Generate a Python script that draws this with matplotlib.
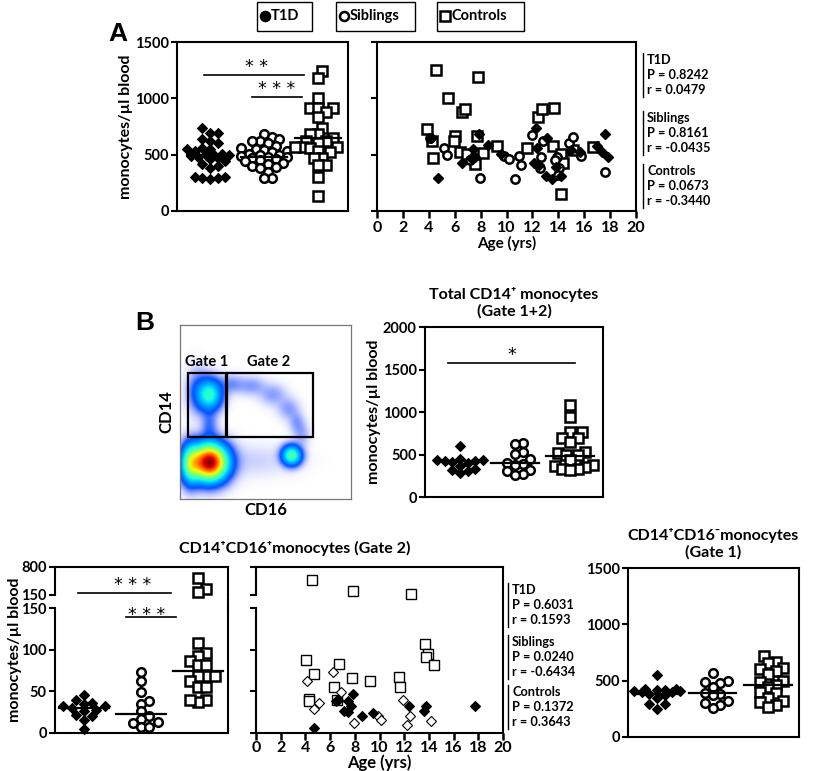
import numpy as np
import matplotlib
matplotlib.use("Agg")
import matplotlib.pyplot as plt
from matplotlib.lines import Line2D
from matplotlib.patches import Rectangle
from matplotlib import cm

plt.rcParams['font.family'] = ['Lato', 'DejaVu Sans']
plt.rcParams['font.weight'] = 'bold'
plt.rcParams['axes.labelweight'] = 'bold'
plt.rcParams['axes.titleweight'] = 'bold'
plt.rcParams['axes.linewidth'] = 1.5
for a in ('xtick', 'ytick'):
    plt.rcParams[a + '.major.width'] = 1.5
    plt.rcParams[a + '.major.size'] = 4
    plt.rcParams[a + '.direction'] = 'out'

# ---------------- data ----------------
groups = ["T1D", "Siblings", "Controls"]

# Panel A: total monocytes
A_t1d = [740, 690, 690, 640, 620, 600, 560, 550, 550, 530, 510, 500, 500, 500, 490,
         480, 470, 460, 440, 420, 400, 380, 300, 300, 290, 290, 280]
A_sib = [680, 660, 640, 620, 620, 600, 580, 560, 550, 540, 530, 520, 510, 500, 500,
         490, 480, 480, 470, 460, 450, 440, 430, 420, 400, 390, 380, 350, 290, 290]
A_ctl = [1240, 1180, 1000, 910, 910, 910, 880, 830, 740, 680, 680, 650, 620, 620, 600,
         570, 570, 570, 560, 530, 520, 470, 470, 410, 410, 300, 130]
A_med = [500, 480, 645]

# Panel A: age correlation
A_age_ctl = [4.57, 7.79, 5.5, 6.58, 6.79, 3.87, 5.99, 5.94, 7.74, 4.28, 4.31, 6.4, 6.97,
             8.2, 7.59, 9.24, 11.6, 12.46, 12.77, 13.7, 13.6, 14.2, 14.4, 15.1, 16.65, 14.2]
A_val_ctl = [1250, 1190, 1000, 880, 905, 730, 670, 625, 670, 620, 470, 520, 505,
             515, 420, 580, 560, 830, 905, 915, 580, 510, 425, 540, 570, 155]
A_age_sib = [4.13, 5.16, 5.42, 7.95, 9.8, 10.2, 10.66, 10.97, 11.15, 11.95, 12.85, 12.7,
             12.6, 13.9, 14.06, 14.0, 14.84, 15.15, 15.74, 17.6, 7.17, 13.73]
A_val_sib = [645, 555, 500, 295, 485, 460, 280, 485, 405, 675, 625, 475,
             380, 475, 380, 320, 605, 655, 490, 345, 455, 455]
A_age_t1d = [4.2, 4.72, 6.53, 7.43, 7.53, 7.23, 7.87, 8.6, 9.55, 12.26, 12.34, 13.1,
             13.08, 13.5, 13.8, 14.2, 15.0, 15.7, 17.0, 17.4, 17.6, 17.8, 12.1, 12.5]
A_val_t1d = [645, 290, 425, 550, 475, 470, 680, 590, 510, 735, 555, 645,
             310, 285, 390, 310, 545, 520, 575, 520, 685, 475, 425, 410]
A_stats = [("T1D", "0.8242", "0.0479"), ("Siblings", "0.8161", "-0.0435"),
           ("Controls", "0.0673", "-0.3440")]

# Panel B: total CD14+ (gate 1+2)
B_t1d = [598, 450, 440, 430, 420, 420, 410, 400, 370, 330, 320, 310, 280]
B_sib = [630, 620, 530, 510, 450, 400, 390, 380, 320, 310, 270, 260]
B_ctl = [1080, 940, 770, 770, 700, 700, 650, 530, 520, 500, 490, 430, 380, 370,
         350, 330, 330, 320]
B_med = [422, 395, 480]

# CD14+CD16+ (gate 2)
G2_t1d = [46, 40, 36, 35, 33, 32, 30, 28, 26, 22, 20, 16, 5]
G2_sib = [73, 62, 49, 39, 35, 26, 20, 17, 13, 12, 7, 7]
G2_ctl = [545, 290, 220, 108, 96, 93, 87, 82, 82, 68, 68, 68, 62, 55, 55, 40, 37, 40]
G2_med = [30, 23, 75]

G2_age_ctl = [4.56, 7.83, 12.58, 13.68, 13.9, 13.8, 14.45, 4.02, 4.67, 6.75, 7.75, 9.2,
              11.58, 11.66, 6.34, 6.56, 4.3, 4.3]
G2_val_ctl = [500, 243, 170, 107, 95, 91, 82, 88, 71, 83, 66, 63,
              67, 55, 55, 40, 41, 38]
G2_age_sib = [4.1, 6.2, 6.86, 5.13, 4.67, 7.91, 9.85, 10.12, 11.93, 12.23, 12.5, 14.15]
G2_val_sib = [63, 73, 49, 36, 29, 12, 21, 16, 40, 10, 21, 14]
G2_age_t1d = [4.7, 6.48, 6.6, 7.15, 7.42, 7.47, 7.69, 7.83, 8.56, 9.45, 12.39, 13.6,
              13.74, 17.73]
G2_val_t1d = [6, 38, 40, 27, 25, 38, 32, 47, 21, 24, 33, 27, 32, 33]
G2_stats = [("T1D", "0.6031", "0.1593"), ("Siblings", "0.0240", "-0.6434"),
            ("Controls", "0.1372", "0.3643")]

# CD14+CD16- (gate 1)
G1_t1d = [553, 430, 425, 420, 415, 410, 405, 400, 395, 385, 370, 350, 290, 290, 250]
G1_sib = [568, 500, 490, 480, 440, 390, 380, 370, 320, 300, 280, 260]
G1_ctl = [720, 670, 660, 610, 600, 590, 560, 500, 490, 465, 440, 400, 390, 350,
          320, 310, 280, 270]
G1_med = [385, 391, 465]

# Flow cytometry density (schematic populations, axes fractions)
flow_cx = [0.17, 0.17, 0.65, 0.17, 0.30, 0.42, 0.54, 0.63, 0.68, 0.71, 0.42, 0.06, 0.10]
flow_cy = [0.21, 0.60, 0.25, 0.42, 0.66, 0.65, 0.60, 0.52, 0.44, 0.37, 0.22, 0.20, 0.62]
flow_sx = [0.065, 0.045, 0.035, 0.03, 0.05, 0.05, 0.05, 0.04, 0.03, 0.03, 0.16, 0.035, 0.04]
flow_sy = [0.065, 0.055, 0.035, 0.06, 0.035, 0.035, 0.04, 0.04, 0.04, 0.04, 0.06, 0.07, 0.08]
flow_amp = [1.0, 0.30, 0.36, 0.05, 0.035, 0.03, 0.03, 0.03, 0.03, 0.025, 0.012, 0.35, 0.05]

# ---------------- figure ----------------
W, H = 822, 771
fig = plt.figure(figsize=(W / 100, H / 100), dpi=100)


def add_ax(x0, y0, x1, y1):
    return fig.add_axes([x0 / W, 1 - y1 / H, (x1 - x0) / W, (y1 - y0) / H])


def FX(x):
    return x / W


def FY(y):
    return 1 - y / H


def swarm(ypx, d, step=None, maxoff=24):
    ypx = np.asarray(ypx, float)
    step = step or d * 0.55
    order = np.argsort(ypx)
    placed = []
    off = np.zeros(len(ypx))
    for i in order:
        best, bestov = 0.0, None
        for k in range(40):
            cand = 0.0 if k == 0 else ((k + 1) // 2) * step * (1 if k % 2 else -1)
            if abs(cand) > maxoff:
                continue
            dmin = min([np.hypot(cand - px, ypx[i] - py) for px, py in placed] or [1e9])
            if dmin >= d:
                best = cand
                bestov = None
                break
            if bestov is None or dmin > bestov:
                best, bestov = cand, dmin
        off[i] = best
        placed.append((best, ypx[i]))
    return off


mk_t1d = dict(marker='D', ms=5.5, mfc='black', mec='black', mew=0.8, ls='none')
mk_sib = dict(marker='o', ms=6.2, mfc='white', mec='black', mew=1.8, ls='none')
mk_ctl = dict(marker='s', ms=6.8, mfc='white', mec='black', mew=1.8, ls='none')
specs = [mk_t1d, mk_sib, mk_ctl]

TICKFS = 10.5
STAR = dict(family='DejaVu Sans', weight='normal', fontsize=12.5, ha='center', va='bottom')


def style_col_ax(ax):
    ax.set_xticks([])
    ax.tick_params(axis='y', labelsize=TICKFS, pad=2)


def columns(ax, data, meds, ypx_per_unit, s, d=7.0, hw=0.43):
    for gi, (vals, med, sp) in enumerate(zip(data, meds, specs)):
        ypx = np.asarray(vals, float) * ypx_per_unit
        off = swarm(ypx, d) / s
        ax.plot(gi + off, vals, clip_on=False, **sp)
        ax.plot([gi - hw, gi + hw], [med, med], color='black', lw=1.6, zorder=5)


def xlim_for(x0, x1, c0, s):
    return ((x0 - c0) / s, (x1 - c0) / s)


# ---------- top legend boxes ----------
leg = [((257, 312), 'o', 'black', "T1D"), ((336, 415), 'o', 'white', "Siblings"),
       ((437, 524), 's', 'white', "Controls")]
for (bx0, bx1), m, fc, lab in leg:
    fig.add_artist(Rectangle((FX(bx0), FY(31)), (bx1 - bx0) / W, 29 / H,
                             transform=fig.transFigure, fill=False, lw=1.0, ec='black'))
    fig.add_artist(Line2D([FX(bx0 + 8)], [FY(16)], marker=m, ms=6.5 if m == 'o' else 7.5,
                          mfc=fc, mec='black', mew=1.8, transform=fig.transFigure))
    fig.text(FX(bx0 + 14), FY(16), lab, fontsize=10.5, va='center', ha='left')

# ---------- Panel A left ----------
fig.text(FX(118), FY(34), "A", fontsize=19, family='Liberation Sans', weight='bold',
         ha='center', va='center')
axA = add_ax(177, 42, 348, 211)
sA = 54
axA.set_xlim(*xlim_for(177, 348, 210, sA))
axA.set_ylim(0, 1500)
axA.set_yticks([0, 500, 1000, 1500])
style_col_ax(axA)
axA.set_ylabel("monocytes/µl blood", fontsize=11.5, labelpad=1)
columns(axA, [A_t1d, A_sib, A_ctl], A_med, 169 / 1500, sA)
axA.plot([-0.11, 1.74], [1210, 1210], color='black', lw=1.2)
axA.text(0.87, 1200, "* *", **STAR)
axA.plot([0.78, 1.70], [1010, 1010], color='black', lw=1.2)
axA.text(1.24, 1000, "* * *", **STAR)

# ---------- Panel A right ----------
axAr = add_ax(377, 42, 636, 211)
axAr.set_xlim(0, 20)
axAr.set_ylim(0, 1500)
axAr.set_xticks(np.arange(0, 21, 2))
axAr.set_yticks([0, 500, 1000, 1500])
axAr.set_yticklabels([])
axAr.tick_params(axis='x', labelsize=11.5, width=1.8, length=5, pad=2)
axAr.set_xlabel("Age (yrs)", fontsize=11, labelpad=1)
axAr.plot(A_age_ctl, A_val_ctl, marker='s', ms=7, mfc='white', mec='black', mew=1.8, ls='none')
axAr.plot(A_age_sib, A_val_sib, marker='o', ms=6, mfc='white', mec='black', mew=1.8, ls='none')
axAr.plot(A_age_t1d, A_val_t1d, marker='D', ms=5, mfc='black', mec='black', ls='none')


def stats_block(x, blocks, ys):
    for (name, p, r), yb in zip(blocks, ys):
        lines = [name, "P = " + p, "r = " + r]
        for k, t in enumerate(lines):
            fig.text(FX(x + 4), FY(yb + k * 15), t, fontsize=9.2, va='center', ha='left')
        fig.add_artist(Line2D([FX(x), FX(x)], [FY(yb - 7), FY(yb + 2 * 15 + 7)],
                              color='black', lw=1.0, transform=fig.transFigure))


stats_block(643, A_stats, [60, 118, 171])

# ---------- Panel B flow ----------
fig.text(FX(145), FY(323), "B", fontsize=19, family='Liberation Sans', weight='bold',
         ha='center', va='center')
axF = add_ax(180, 325, 351, 499)
gx = np.linspace(0, 1, 300)
gy = np.linspace(0, 1, 300)
X, Y = np.meshgrid(gx, gy)
D = np.zeros_like(X)
for cx, cy, sx, sy, am in zip(flow_cx, flow_cy, flow_sx, flow_sy, flow_amp):
    D += am * np.exp(-((X - cx) ** 2 / (2 * sx ** 2) + (Y - cy) ** 2 / (2 * sy ** 2)))
D = D / D.max()
rgba = cm.jet(np.clip(0.15 + 0.85 * D, 0, 1))
rgba[..., 3] = np.clip(D / 0.07, 0, 1) ** 0.9
axF.imshow(rgba, extent=[0, 1, 0, 1], origin='lower', aspect='auto',
           interpolation='bilinear')
axF.set_xlim(0, 1)
axF.set_ylim(0, 1)
axF.set_xticks([])
axF.set_yticks([])
for sp in axF.spines.values():
    sp.set_color('#777777')
    sp.set_linewidth(0.9)
axF.add_patch(Rectangle((0.047, 0.354), 0.22, 0.372, fill=False, lw=1.6, ec='black'))
axF.add_patch(Rectangle((0.273, 0.354), 0.506, 0.372, fill=False, lw=1.6, ec='black'))
axF.text(0.157, 0.785, "Gate 1", fontsize=10.5, ha='center', va='center')
axF.text(0.52, 0.785, "Gate 2", fontsize=10.5, ha='center', va='center')
axF.set_ylabel("CD14", fontsize=12, labelpad=4)
axF.set_xlabel("CD16", fontsize=12, labelpad=2)

# ---------- Panel B total CD14+ ----------
axB = add_ax(425, 327, 603, 497)
sB = 55
axB.set_xlim(*xlim_for(425, 603, 460, sB))
axB.set_ylim(0, 2000)
axB.set_yticks([0, 500, 1000, 1500, 2000])
style_col_ax(axB)
axB.set_ylabel("monocytes/µl blood", fontsize=11.5, labelpad=1)
columns(axB, [B_t1d, B_sib, B_ctl], B_med, 170 / 2000, sB)
axB.plot([-0.22, 2.09], [1580, 1580], color='black', lw=1.2)
axB.text(0.95, 1560, "*", **STAR)
axB.set_title("Total CD14⁺ monocytes\n(Gate 1+2)", fontsize=11.5, linespacing=1.25, pad=8)

# ---------- Gate 2 columns (broken axis) ----------
fig.text(FX(295), FY(548), "CD14⁺CD16⁺monocytes (Gate 2)", fontsize=11.5,
         ha='center', va='center')
sG = 57
xl = xlim_for(55, 228, 84, sG)
axGt = add_ax(55, 567, 228, 595)
axGb = add_ax(55, 608, 228, 733)
for ax in (axGt, axGb):
    ax.set_xlim(*xl)
    style_col_ax(ax)
axGt.set_ylim(150, 800)
axGt.set_yticks([150, 800])
axGt.spines['bottom'].set_visible(False)
axGb.set_ylim(0, 150)
axGb.set_yticks([0, 50, 100, 150])
axGb.spines['top'].set_visible(False)
fig.add_artist(Line2D([FX(228), FX(228)], [FY(595), FY(608)], color='black', lw=1.5,
                      transform=fig.transFigure))
fig.text(FX(15), FY(650), "monocytes/µl blood", fontsize=11.5, rotation=90,
         ha='center', va='center')


def gpx(v):
    v = np.asarray(v, float)
    return np.where(v <= 150, v * 125 / 150, 138 + (v - 150) * 28 / 650)


for gi, (vals, med, sp) in enumerate(zip([G2_t1d, G2_sib, G2_ctl], G2_med, specs)):
    vals = np.asarray(vals, float)
    off = swarm(gpx(vals), 7.5) / sG
    lo = vals <= 150
    axGb.plot(gi + off[lo], vals[lo], clip_on=False, **sp)
    if (~lo).any():
        axGt.plot(gi + off[~lo], vals[~lo], clip_on=False, **sp)
    axGb.plot([gi - 0.43, gi + 0.43], [med, med], color='black', lw=1.6)
axGt.plot([-0.1, 1.53], [196, 196], color='black', lw=1.2, clip_on=False)
axGt.text(0.85, 175, "* * *", **STAR)
axGb.plot([0.74, 1.61], [139, 139], color='black', lw=1.2, clip_on=False)
axGb.text(1.1, 131, "* * *", **STAR)

# ---------- Gate 2 vs age (broken axis) ----------
axMt = add_ax(256, 567, 503, 595)
axMb = add_ax(256, 608, 503, 733)
for ax in (axMt, axMb):
    ax.set_xlim(0, 20)
axMt.set_ylim(150, 800)
axMt.set_yticks([150, 800])
axMt.set_yticklabels([])
axMt.set_xticks([])
axMt.spines['bottom'].set_visible(False)
axMb.set_ylim(0, 150)
axMb.set_yticks([0, 50, 100, 150])
axMb.set_yticklabels([])
axMb.spines['top'].set_visible(False)
axMb.set_xticks(np.arange(0, 21, 2))
axMb.tick_params(axis='x', labelsize=11.5, width=1.8, length=5, pad=1)
axMb.set_xlabel("Age (yrs)", fontsize=12, labelpad=-1)
fig.add_artist(Line2D([FX(503), FX(503)], [FY(595), FY(608)], color='black', lw=1.5,
                      transform=fig.transFigure))
mid_specs = [
    (G2_age_ctl, G2_val_ctl, dict(marker='s', ms=6.5, mfc='white', mec='black', mew=1.0)),
    (G2_age_sib, G2_val_sib, dict(marker='D', ms=5.5, mfc='white', mec='black', mew=0.8)),
    (G2_age_t1d, G2_val_t1d, dict(marker='D', ms=5.5, mfc='black', mec='black', mew=0.8)),
]
for ages, vals, sp in mid_specs:
    ages = np.asarray(ages, float)
    vals = np.asarray(vals, float)
    lo = vals <= 150
    axMb.plot(ages[lo], vals[lo], ls='none', clip_on=False, **sp)
    if (~lo).any():
        axMt.plot(ages[~lo], vals[~lo], ls='none', clip_on=False, **sp)
stats_block(508, G2_stats, [590, 642, 692])

# ---------- Gate 1 columns ----------
axG1 = add_ax(628, 568, 799, 737)
sG1 = 55.5
axG1.set_xlim(*xlim_for(628, 799, 657, sG1))
axG1.set_ylim(0, 1500)
axG1.set_yticks([0, 500, 1000, 1500])
style_col_ax(axG1)
columns(axG1, [G1_t1d, G1_sib, G1_ctl], G1_med, 169 / 1500, sG1)
axG1.set_title("CD14⁺CD16⁻monocytes\n(Gate 1)", fontsize=11.5, linespacing=1.25, pad=8)

fig.savefig("out.png", dpi=100)
